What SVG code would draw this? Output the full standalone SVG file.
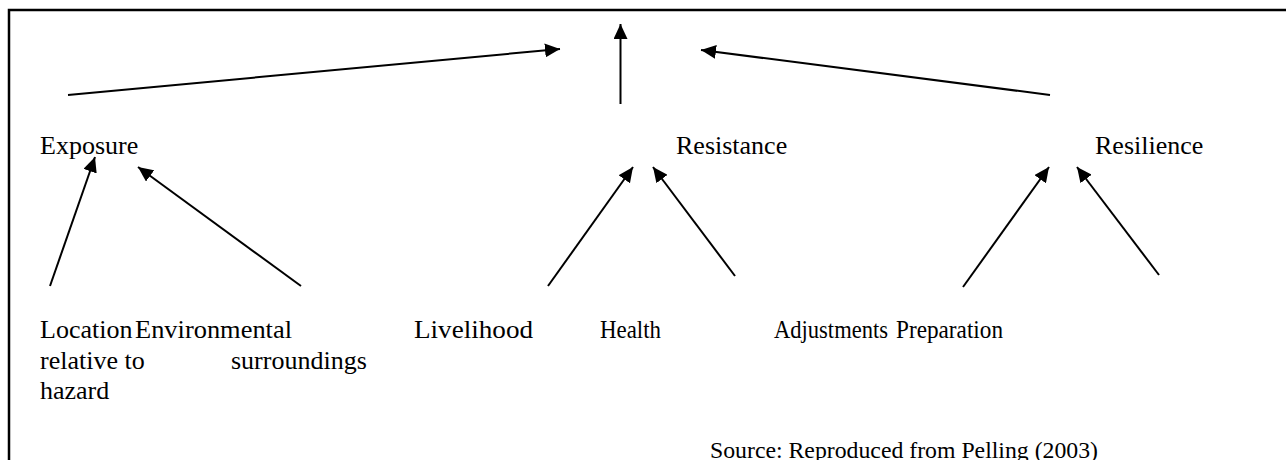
<svg xmlns="http://www.w3.org/2000/svg" width="1286" height="460" viewBox="0 0 1286 460">
<style>
.t{font-family:"Liberation Serif","Times New Roman",serif;font-size:26px;fill:#000}
.n{font-family:"Liberation Serif","Times New Roman",serif;font-size:24.5px;fill:#000}
.s{font-family:"Liberation Serif","Times New Roman",serif;font-size:24px;fill:#000}
.c{stroke:#000;stroke-width:2;fill:none;marker-end:url(#ah)}
.b{stroke:#000;stroke-width:2.5;fill:none}
</style>
<defs>
<marker id="ah" markerUnits="userSpaceOnUse" markerWidth="16" markerHeight="14" refX="15" refY="7" orient="auto">
<path d="M0,0 L15,7 L0,14 Z" fill="#000"/>
</marker>
</defs>
<rect width="1286" height="460" fill="#fff"/>
<path class="b" d="M9,460 V10 H1286"/>
<g id="connectors">
<line class="c" x1="68" y1="95" x2="560" y2="49"/>
<line class="c" x1="620.5" y1="104" x2="620.5" y2="24"/>
<line class="c" x1="1050" y1="95" x2="701" y2="50"/>
<line class="c" x1="50" y1="286" x2="95" y2="157"/>
<line class="c" x1="301" y1="286" x2="138" y2="167"/>
<line class="c" x1="548" y1="286" x2="633" y2="167"/>
<line class="c" x1="735" y1="276" x2="653" y2="167"/>
<line class="c" x1="963" y1="287" x2="1049" y2="167"/>
<line class="c" x1="1159" y1="275" x2="1077" y2="167"/>
</g>
<g id="exposure"><text class="t" x="40" y="154">Exposure</text></g>
<g id="resistance"><text class="t" x="676" y="154">Resistance</text></g>
<g id="resilience"><text class="t" x="1095" y="154">Resilience</text></g>
<g id="location"><text class="t" x="40" y="338">Location</text><text class="t" x="40" y="369">relative to</text><text class="t" x="40" y="399">hazard</text></g>
<g id="environmental"><text class="t" x="135" y="338" textLength="157" lengthAdjust="spacingAndGlyphs">Environmental</text><text class="t" x="231" y="369">surroundings</text></g>
<g id="livelihood"><text class="t" x="414" y="338" textLength="119" lengthAdjust="spacingAndGlyphs">Livelihood</text></g>
<g id="health"><text class="n" x="600" y="338" textLength="61" lengthAdjust="spacingAndGlyphs">Health</text></g>
<g id="adjustments"><text class="n" x="774" y="338" textLength="114" lengthAdjust="spacingAndGlyphs">Adjustments</text></g>
<g id="preparation"><text class="n" x="896" y="338" textLength="107" lengthAdjust="spacingAndGlyphs">Preparation</text></g>
<g id="source"><text class="s" x="710" y="458" textLength="388" lengthAdjust="spacingAndGlyphs">Source: Reproduced from Pelling (2003)</text></g>
</svg>
